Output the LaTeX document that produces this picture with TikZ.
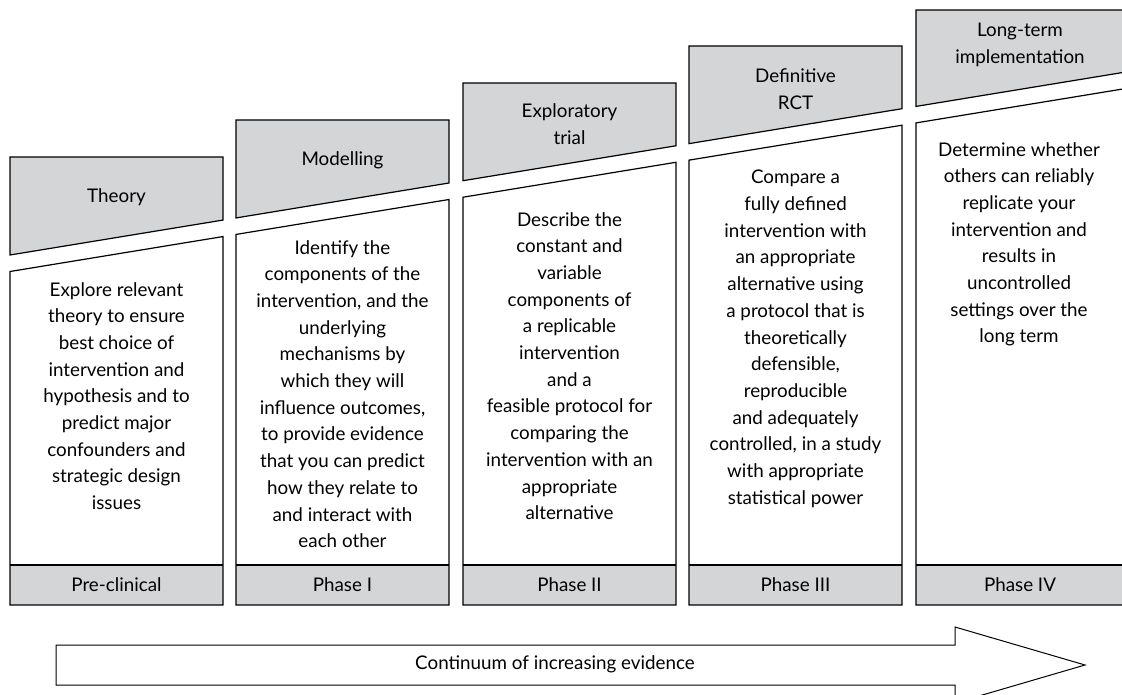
\documentclass[tikz,border=0pt]{standalone}
\usepackage{fontspec}
\setmainfont{Lato}
\definecolor{boxgray}{RGB}{212,213,215}
\begin{document}
\begin{tikzpicture}[x=1pt,y=-1pt,
  panel/.style={draw=black,line width=1.2pt,line join=miter},
  txt/.style={font=\fontsize{18.8}{26.7}\selectfont,align=center,inner sep=0pt,text=black},
  arrowshape/.style={draw=black,line width=1pt,fill=white,line join=miter}]
\useasboundingbox (0,0) rectangle (1122,695);
\begin{scope}
\clip (0,0) rectangle (1122,695);
\foreach \L/\T in {10/157,236/120,463/83,689/46,916/10}{
  \pgfmathsetmacro\R{\L+213}
  \pgfmathsetmacro\gL{255-0.164*(\L-10)}
  \pgfmathsetmacro\gR{255-0.164*(\R-10)}
  \pgfmathsetmacro\wL{\gL+16.5}
  \pgfmathsetmacro\wR{\gR+16.5}
  \draw[panel,fill=boxgray] (\L,\T) -- (\R,\T) -- (\R,\gR) -- (\L,\gL) -- cycle;
  \fill[boxgray] (\L,565) rectangle (\R,605);
  \draw[panel] (\L,\wL) -- (\R,\wR) -- (\R,605) -- (\L,605) -- cycle;
  \draw[panel] (\L,565) -- (\R,565);
}
\draw[arrowshape] (56,645) -- (955,645) -- (955,627) -- (1085,665) -- (955,703) -- (955,685) -- (56,685) -- cycle;
\end{scope}

% headers
\node[txt] (h1) at (116.5,197) {Theory};
\node[txt] (h2) at (342.5,160) {Modelling};
\node[txt] (h3) at (569.5,124) {Exploratory\\trial};
\node[txt] (h4) at (795.5,89) {Definitive\\RCT};
\node[txt] (h5) at (1020,45) {Long-term\\implementation};

% bodies
\node[txt,anchor=north] (b1) at (116.5,282) {Explore relevant\\theory to ensure\\best choice of\\intervention and\\hypothesis and to\\predict major\\confounders and\\strategic design\\issues};
\node[txt,anchor=north] (b2) at (342.5,240) {Identify the\\components of the\\intervention, and the\\underlying\\mechanisms by\\which they will\\influence outcomes,\\to provide evidence\\that you can predict\\how they relate to\\and interact with\\each other};
\node[txt,anchor=north] (b3) at (569.5,212) {Describe the\\constant and\\variable\\components of\\a replicable\\intervention\\and a\\feasible protocol for\\comparing the\\intervention with an\\appropriate\\alternative};
\node[txt,anchor=north] (b4) at (795.5,170) {Compare a\\fully defined\\intervention with\\an appropriate\\alternative using\\a protocol that is\\theoretically\\defensible,\\reproducible\\and adequately\\controlled, in a study\\with appropriate\\statistical power};
\node[txt,anchor=north] (b5) at (1019,142) {Determine whether\\others can reliably\\replicate your\\intervention and\\results in\\uncontrolled\\settings over the\\long term};

% phases
\node[txt] (p1) at (116.5,585) {Pre-clinical};
\node[txt] (p2) at (342.5,585) {Phase I};
\node[txt] (p3) at (569.5,585) {Phase II};
\node[txt] (p4) at (795.5,585) {Phase III};
\node[txt] (p5) at (1020,585) {Phase IV};

\node[txt] (cont) at (555,664) {Continuum of increasing evidence};
\end{tikzpicture}
\end{document}
